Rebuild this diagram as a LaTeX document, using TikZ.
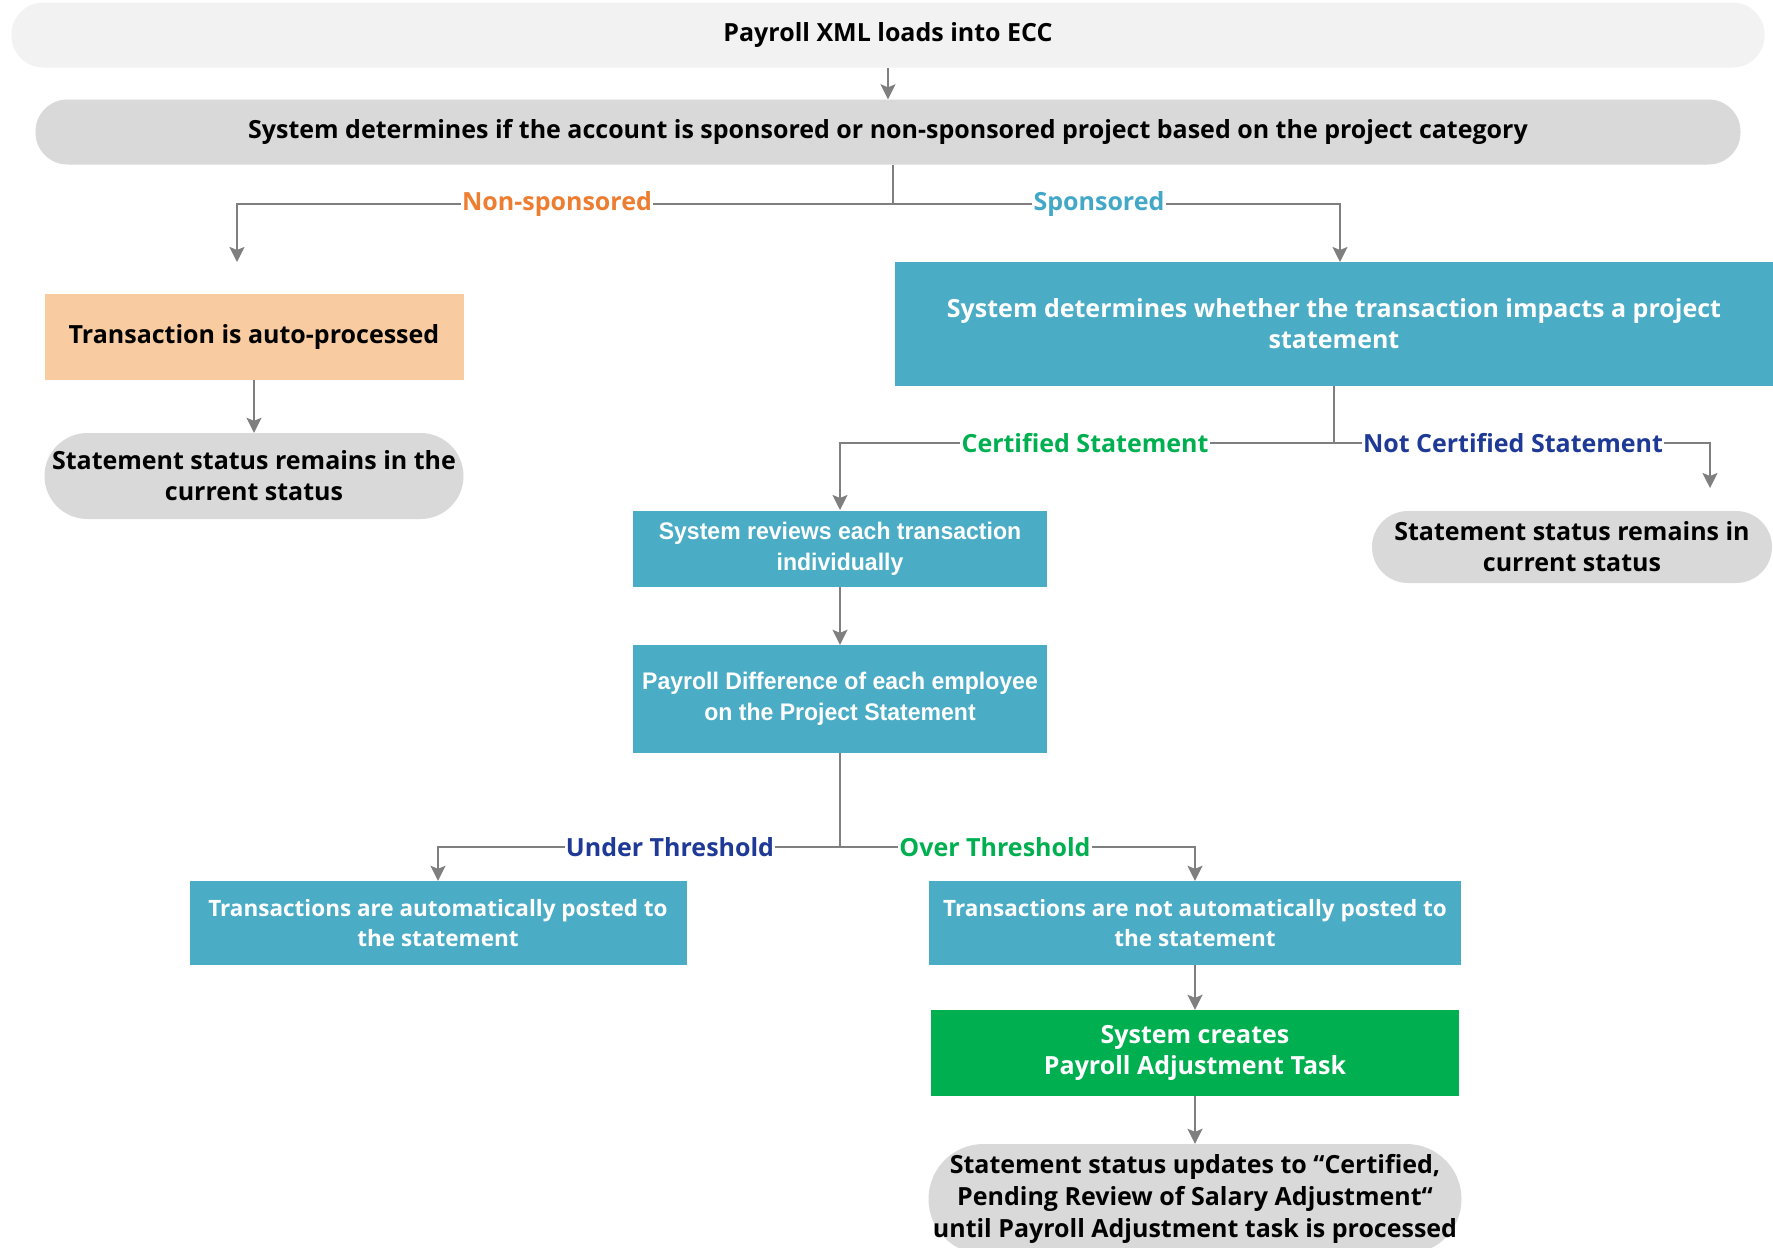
\documentclass[tikz,border=0pt]{standalone}
\usepackage{fontspec}
\setmainfont{Open Sans}
\newfontfamily\narrowfont[FakeStretch=0.96]{Liberation Sans}
\usepackage{tikz}
\usetikzlibrary{arrows, arrows.meta, positioning}
\definecolor{pillLight}{HTML}{F2F2F2}
\definecolor{pillGray}{HTML}{D9D9D9}
\definecolor{peach}{HTML}{F8CBA0}
\definecolor{tealBox}{HTML}{4BACC6}
\definecolor{greenBox}{HTML}{00B050}
\definecolor{lineGray}{HTML}{7F7F7F}
\definecolor{orangeLbl}{HTML}{ED7D31}
\definecolor{blueLbl}{HTML}{43A8C8}
\definecolor{greenLbl}{HTML}{00B050}
\definecolor{navyLbl}{HTML}{1F3A96}
\tikzset{>={Stealth[length=15pt, width=15pt, inset=3pt]}}
\tikzset{
  box/.style={align=center, inner sep=0pt, font=\bfseries\fontsize{25}{31}\selectfont},
  pill/.style={box, fill=pillGray, rounded corners=#1},
  tealbox/.style={box, fill=tealBox, text=white},
  smallbox/.style={tealbox, font=\bfseries\fontsize{22.5}{30}\selectfont},
  narrowbox/.style={tealbox, font=\narrowfont\bfseries\fontsize{24}{31}\selectfont},
  lbl/.style={font=\bfseries\fontsize{25}{28}\selectfont, fill=white, inner sep=1pt},
  flow/.style={draw=lineGray, line width=2pt}
}

\begin{document}
\begin{tikzpicture}[x=1pt, y=-1pt]
	\useasboundingbox (0,0) rectangle (1773,1248);
	\clip (0,0) rectangle (1773,1248);
	\fill[white] (0,0) rectangle (1773,1248);
	% top of the flow
	\node[pill=32pt, fill=pillLight, minimum width=1753pt, minimum height=65pt] (load) at (888,35) {Payroll XML loads into ECC};
	\node[pill=32pt, minimum width=1705pt, minimum height=65pt] (cat) at (888,132) {System determines if the account is sponsored or non-sponsored project based on the project category};
	% non-sponsored side
	\node[box, fill=peach, minimum width=419pt, minimum height=86pt] (auto) at (254,337) {Transaction is auto-processed};
	\node[pill=43pt, minimum width=419pt, minimum height=86pt] (remL) at (254,476) {Statement status remains in the\\current status};
	% sponsored side
	\node[tealbox, minimum width=878pt, minimum height=124pt] (imp) at (1334,324) {System determines whether the transaction impacts a project\\statement};
	\node[narrowbox, minimum width=414pt, minimum height=76pt] (rev) at (840,549) {System reviews each transaction\\individually};
	\node[narrowbox, minimum width=414pt, minimum height=108pt] (diff) at (840,699) {Payroll Difference of each employee\\on the Project Statement};
	\node[pill=36pt, minimum width=400pt, minimum height=72pt] (remR) at (1572,547) {Statement status remains in\\current status};
	\node[smallbox, minimum width=497pt, minimum height=84pt] (under) at (438,923) {Transactions are automatically posted to\\the statement};
	\node[smallbox, minimum width=532pt, minimum height=84pt] (over) at (1195,923) {Transactions are not automatically posted to\\the statement};
	\node[box, fill=greenBox, text=white, minimum width=528pt, minimum height=86pt] (task) at (1195,1053) {System creates\\Payroll Adjustment Task};
	\node[pill=55pt, minimum width=533pt, minimum height=110pt, font=\bfseries\fontsize{25}{32}\selectfont] (upd) at (1195,1199) {Statement status updates to “Certified,\\Pending Review of Salary Adjustment“\\until Payroll Adjustment task is processed};
	% branch labels
	\node[lbl, text=orangeLbl] (nsLbl) at (557,204) {Non-sponsored};
	\node[lbl, text=blueLbl] (spLbl) at (1099,204) {Sponsored};
	\node[lbl, text=greenLbl] (certLbl) at (1085,443) {Certified Statement};
	\node[lbl, text=navyLbl] (notLbl) at (1513,443) {Not Certified Statement};
	\node[lbl, text=navyLbl] (underLbl) at (670,847) {Under Threshold};
	\node[lbl, text=greenLbl] (overLbl) at (995,847) {Over Threshold};
	% split points and arrow ends
	\coordinate (s1) at (893,204);
	\coordinate (s2) at (1334,443);
	\coordinate (s3) at (840,847);
	\coordinate (nsTip) at (237,262);
	\coordinate (notTip) at (1710,488);
	\coordinate (certTip) at (840,510);
	% connectors
	\draw[flow, ->] (load) -- (cat);
	\draw[flow] (cat.south -| s1) -- (s1) -- (spLbl);
	\draw[flow] (s1) -- (nsLbl);
	\draw[flow, ->] (nsLbl) -| (nsTip);
	\draw[flow, ->] (spLbl) -| (1340,262);
	\draw[flow] (imp) -- (s2) -- (notLbl);
	\draw[flow] (s2) -- (certLbl);
	\draw[flow, ->] (certLbl) -| (certTip);
	\draw[flow, ->] (notLbl) -| (notTip);
	\draw[flow, ->] (auto) -- (remL);
	\draw[flow, ->] (rev) -- (diff);
	\draw[flow] (diff) -- (s3) -- (overLbl);
	\draw[flow] (s3) -- (underLbl);
	\draw[flow, ->] (underLbl) -| (under);
	\draw[flow, ->] (overLbl) -| (over);
	\draw[flow, ->] (over) -- (task);
	\draw[flow, ->] (task) -- (upd);
\end{tikzpicture}
\end{document}
